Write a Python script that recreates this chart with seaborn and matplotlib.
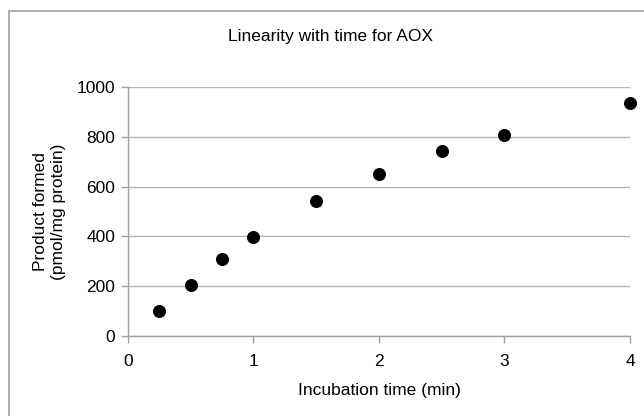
import matplotlib
matplotlib.use("Agg")
import matplotlib.pyplot as plt
import seaborn as sns
import pandas as pd
from matplotlib.patches import Rectangle

# Data
time_min = [0.25, 0.5, 0.75, 1.0, 1.5, 2.0, 2.5, 3.0, 4.0]
product = [100, 205, 310, 397, 543, 650, 742, 806, 934]

data = pd.DataFrame({'Incubation time (min)': time_min, 'Product formed': product})

sns.set_style('white')
plt.rcParams['font.family'] = ['Liberation Sans', 'DejaVu Sans']
plt.rcParams['text.color'] = 'black'
plt.rcParams['axes.labelcolor'] = 'black'
plt.rcParams['xtick.labelcolor'] = 'black'
plt.rcParams['ytick.labelcolor'] = 'black'

fig = plt.figure(figsize=(6.44, 4.16), dpi=100)
ax = fig.add_axes([128 / 644, 80 / 416, 502 / 644, 249 / 416])

# Outer chart frame
fig.patches.append(Rectangle((9 / 644, -0.1), 1.1, (416 - 11) / 416 + 0.1,
                             transform=fig.transFigure, fill=False,
                             edgecolor='#a0a0a0', linewidth=1.2))

sns.scatterplot(x='Incubation time (min)', y='Product formed', data=data,
                ax=ax, color='black', s=75, edgecolor='black', clip_on=False, zorder=3)

ax.set_xlim(0, 4)
ax.set_ylim(0, 1000)
ax.set_xticks([0, 1, 2, 3, 4])
ax.set_yticks([0, 200, 400, 600, 800, 1000])
ax.grid(axis='y', color='#b4b4b4', linewidth=1)
ax.set_axisbelow(True)

for side in ['top', 'right']:
    ax.spines[side].set_visible(False)
for side in ['left', 'bottom']:
    ax.spines[side].set_color('#a0a0a0')
    ax.spines[side].set_linewidth(1)

ax.tick_params(axis='both', length=5, width=1, color='#a0a0a0', labelsize=12.5, pad=4,
               direction='out', bottom=True, left=True, labelcolor='black')
ax.tick_params(axis='x', pad=8)

ax.set_xlabel('Incubation time (min)', fontsize=12.5, labelpad=10, color='black')
ax.set_ylabel('Product formed\n(pmol/mg protein)', fontsize=12.5, labelpad=8, color='black')
fig.text(330 / 644, 1 - 37 / 416, 'Linearity with time for AOX', fontsize=12.5,
         ha='center', va='center', color='black')

fig.savefig('out.png', dpi=100)
